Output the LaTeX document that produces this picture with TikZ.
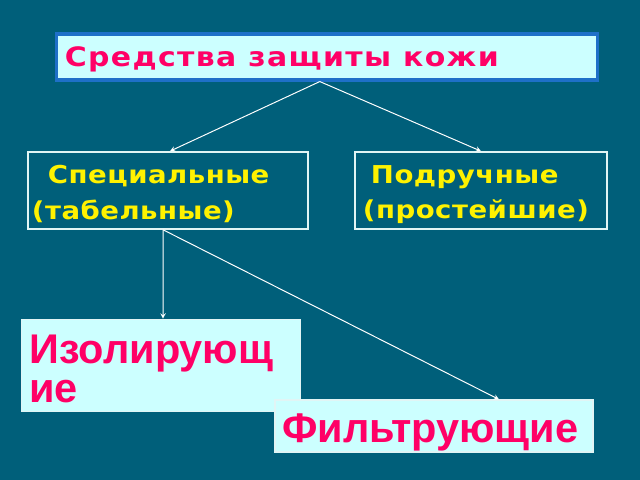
\documentclass[tikz,border=0pt]{standalone}
\usepackage{fontspec}
\usepackage{tikz}
\usetikzlibrary{arrows}
\usetikzlibrary{positioning}
\newfontfamily\titlefont[FakeStretch=1.12,LetterSpace=5]{DejaVu Sans Bold}
\newfontfamily\widefont[FakeStretch=1.12,LetterSpace=2]{DejaVu Sans Bold}
\newfontfamily\plainfont{Liberation Sans Bold}
\newcommand{\gap}{\hspace{0.45em}}
\definecolor{slide}{RGB}{0,95,122}
\definecolor{paleblue}{RGB}{204,255,255}
\definecolor{rose}{RGB}{255,0,102}
\definecolor{frameblue}{RGB}{30,112,200}
\definecolor{lightline}{RGB}{225,245,245}

\begin{document}
\begin{tikzpicture}[x=0.025cm, y=-0.025cm,
    box/.style = {rectangle, inner xsep=0.2cm, inner ysep=0pt, align=left},
    pale/.style = {box, fill=paleblue, draw=lightline, line width=0.8pt, text=rose},
    dark/.style = {box, draw=lightline, line width=1.2pt, text=yellow},
    arrow/.style = {-stealth, white, line width=0.7pt}]
    \fill[slide] (0,0) rectangle (640,480);
    % top level
    \node[pale, draw=frameblue, line width=2.2pt, text width=13.1cm, minimum height=1.15cm,
        text depth=0pt, font=\titlefont\fontsize{19}{22}\selectfont] (skin) at (327,57)
        {Средства\gap защиты\gap кожи};
    % second level
    \node[dark, inner xsep=0.1cm, text width=6.8cm, minimum height=1.925cm,
        font=\widefont\fontsize{17.5}{25.5}\selectfont] (special) at (168,190.5)
        {\rule{0pt}{18.5pt}\hspace*{0.4cm}Специальные\\(табельные)};
    \node[dark, text width=5.9cm, minimum height=1.925cm,
        font=\widefont\fontsize{17.5}{25.5}\selectfont] (handy) at (481,190.5)
        {\rule{0pt}{18.5pt}\hspace*{0.2cm}Подручные\\(простейшие)};
    % third level
    \node[pale, text width=6.575cm, minimum height=2.31cm,
        font=\plainfont\fontsize{29.5}{27.5}\selectfont] (isolating) at (161,365.5)
        {\rule{0pt}{25.5pt}Изолирующ\\ие};
    \node[pale, inner xsep=0.18cm, text width=7.59cm, minimum height=1.3cm,
        text height=23pt, text depth=0pt,
        font=\plainfont\fontsize{29.5}{27.5}\selectfont] (filtering) at (434,426)
        {Фильтрующие};
    \draw[arrow] ([xshift=-0.18cm]skin.south) -- ([xshift=0.05cm]special.north);
    \draw[arrow] ([xshift=-0.18cm]skin.south) -- (handy.north);
    \draw[arrow] ([xshift=-0.12cm]special.south) -- ([xshift=0.05cm]isolating.north);
    \draw[arrow] ([xshift=-0.12cm]special.south) -- ([xshift=1.625cm]filtering.north);
\end{tikzpicture}
\end{document}
